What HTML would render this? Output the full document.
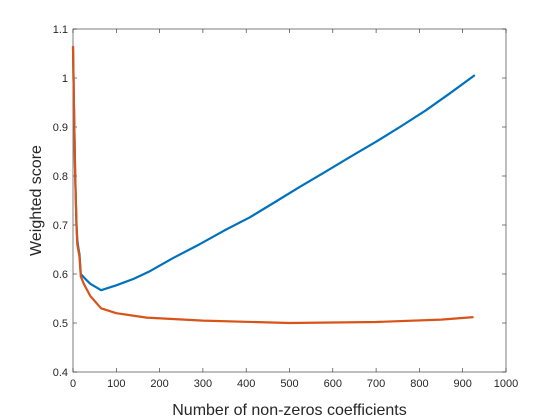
<!DOCTYPE html>
<html><head><meta charset="utf-8"><style>body{margin:0;background:#fff}svg{display:block}</style></head>
<body>
<svg id="chart" width="560" height="420" xmlns="http://www.w3.org/2000/svg" font-family="Liberation Sans, sans-serif">
<rect width="560" height="420" fill="#fff"/>
<g id="axes"></g>
<g id="marks"></g>
<text x="289.5" y="415" font-size="16" text-anchor="middle" fill="#262626">Number of non-zeros coefficients</text>
<text transform="translate(41,200.5) rotate(-90)" font-size="16" text-anchor="middle" fill="#262626">Weighted score</text>
</svg>
<script>
const xTicks=[0,100,200,300,400,500,600,700,800,900,1000];
const yTicks=[0.4,0.5,0.6,0.7,0.8,0.9,1,1.1];
const yTickLabels=["0.4","0.5","0.6","0.7","0.8","0.9","1","1.1"];
const blueX=[0,2,5,8,10,12,15,18,25,40,65,100,140,178,230,293,350,409,465,524,580,640,700,755,815,871,928];
const blueY=[1.065,0.95,0.8,0.7,0.67,0.655,0.64,0.6,0.593,0.58,0.567,0.577,0.59,0.606,0.632,0.661,0.689,0.716,0.746,0.778,0.807,0.839,0.87,0.9,0.934,0.969,1.006];
const orangeX=[0,2,5,8,10,15,18,25,40,65,100,170,300,500,700,850,925];
const orangeY=[1.065,0.95,0.8,0.7,0.66,0.635,0.595,0.58,0.555,0.53,0.52,0.511,0.505,0.5,0.502,0.507,0.512];
const L=73,R=506,T=29,B=372;
const sx=v=>L+(v-0)/1000*(R-L);
const sy=v=>B-(v-0.4)/0.7*(B-T);
const NS="http://www.w3.org/2000/svg";
const ax=document.getElementById('axes'),mk=document.getElementById('marks');
function el(t,a,p){const e=document.createElementNS(NS,t);for(const k in a)e.setAttribute(k,a[k]);p.appendChild(e);return e;}
const box=el('rect',{x:L,y:T,width:R-L,height:B-T,fill:'none',stroke:'#262626','stroke-width':0.6},ax);


xTicks.forEach(v=>{const x=sx(v);
 el('line',{x1:x,x2:x,y1:B,y2:B-4,stroke:'#262626','stroke-width':0.6},ax);
 el('line',{x1:x,x2:x,y1:T,y2:T+4,stroke:'#262626','stroke-width':0.6},ax);
 const t=el('text',{x:x,y:B+15,'font-size':11,'text-anchor':'middle',fill:'#262626'},ax);t.textContent=v;
 
 });
yTicks.forEach((v,i)=>{const y=sy(v);
 el('line',{x1:L,x2:L+4,y1:y,y2:y,stroke:'#262626','stroke-width':0.6},ax);
 el('line',{x1:R,x2:R-4,y1:y,y2:y,stroke:'#262626','stroke-width':0.6},ax);
 const t=el('text',{x:L-5,y:y+4,'font-size':11,'text-anchor':'end',fill:'#262626'},ax);t.textContent=yTickLabels[i];
 
 });
function line(xs,ys,c,name){const d=xs.map((x,i)=>(i?'L':'M')+sx(x).toFixed(1)+','+sy(ys[i]).toFixed(1)).join('');
 const p=el('path',{d:d,fill:'none',stroke:c,'stroke-width':2.2,'stroke-linejoin':'round'},mk);
 
 }
line(blueX,blueY,'#0072BD','blue-series-line');
line(orangeX,orangeY,'#D95319','orange-series-line');
</script>
</body></html>
